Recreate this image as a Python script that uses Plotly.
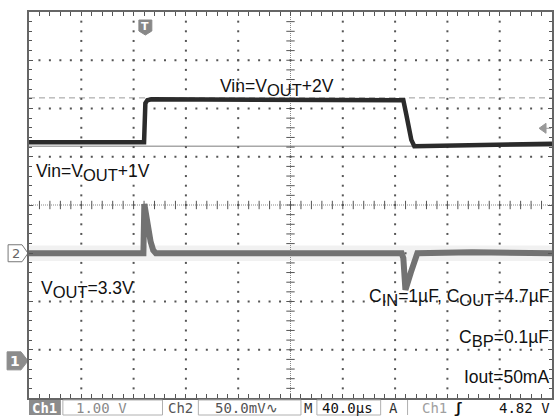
import numpy as np
import plotly.graph_objects as go

# ---------------- data ----------------
# Channel 1 : input voltage step (V), 1 V/div
t_ch1_us = [-89, -1.0, 0.0, 1.5, 4.6, 60, 120, 196.6, 197.3, 199.6, 203.4, 205.7, 224, 260, 311]
v_ch1_V = [4.53, 4.53, 5.34, 5.40, 5.42, 5.42, 5.42, 5.42, 5.40, 5.10, 4.58, 4.45, 4.46, 4.49, 4.50]

# Channel 2 : output deviation around 3.3 V (mV), 50 mV/div
t_ch2_us = [-89, -1.5, -0.8, 1.5, 4.0, 6.0, 8.0, 60, 150, 196, 197.3, 198.9, 203, 208, 250, 311]
v_ch2_mV = [0, 0, 51, 30, 12, 3, 0, 0, 0, 0, -5, -38, -20, 0, 1, 0]

# noise envelope of channel 2 (mV)
t_ch2_env_us = [-89, 311]
ch2_env_hi_mV = [8, 8]
ch2_env_lo_mV = [-8, -8]

# reference levels on channel 1 (V)
ref_dashed_V = 5.45
ref_solid_V = 4.45
trig_level_V = 4.82

SUB = '<sub><span style="font-size:16.5px">{}</span></sub>'
labels_in = ["Vin=V" + SUB.format("OUT") + "+2V", "Vin=V" + SUB.format("OUT") + "+1V",
             "V" + SUB.format("OUT") + "=3.3V"]
labels_cond = ["C" + SUB.format("IN") + "=1\u00b5F, C" + SUB.format("OUT") + "=4.7\u00b5F",
               "C" + SUB.format("BP") + "=0.1\u00b5F", "Iout=50mA"]
status_texts = ["Ch1", "1.00 V", "Ch2", "50.0mV\u223f", "M", "40.0\u00b5s", "A", "Ch1", "\u0283", "4.82 V"]

# ---------------- scope settings ----------------
US_PER_DIV = 40.0
X0 = -89.0                 # time at left graticule edge
V_PER_DIV = 1.0
CH1_GND_DIV = 0.77         # ch1 ground marker position (div from bottom)
MV_PER_DIV = 50.0
CH2_POS_DIV = 3.0          # ch2 marker position (div from bottom)
NX, NY = 10, 8

xr = [X0, X0 + NX * US_PER_DIV]
yr = [-CH1_GND_DIV * V_PER_DIV, (NY - CH1_GND_DIV) * V_PER_DIV]
y2r = [-CH2_POS_DIV * MV_PER_DIV, (NY - CH2_POS_DIV) * MV_PER_DIV]

W, H = 556, 416
ML, MR, MT, MB = 29, 2, 12, 18
PW, PH = W - ML - MR, H - MT - MB


def px(x):
    return (x - ML) / PW


def py(y):
    return (MT + PH - y) / PH


def v1_to_py(v):
    frac = (v - yr[0]) / (yr[1] - yr[0])
    return MT + PH - frac * PH


def v2_to_py(v):
    frac = (v - y2r[0]) / (y2r[1] - y2r[0])
    return MT + PH - frac * PH


def t_to_px(t):
    return ML + (t - xr[0]) / (xr[1] - xr[0]) * PW


fig = go.Figure()

# ---------------- graticule dots ----------------
gx, gy = [], []
for k in range(1, NX):
    if k == NX // 2:
        continue
    for j in range(1, NY * 5):
        gx.append(xr[0] + k * US_PER_DIV)
        gy.append(yr[0] + j * V_PER_DIV / 5)
for k in range(1, NY):
    if k == NY // 2:
        continue
    for j in range(1, NX * 5):
        gx.append(xr[0] + j * US_PER_DIV / 5)
        gy.append(yr[0] + k * V_PER_DIV)
fig.add_trace(go.Scatter(x=gx, y=gy, mode="markers",
                         marker=dict(symbol="square", size=2, color="#555"),
                         hoverinfo="skip", showlegend=False))

cx = xr[0] + NX / 2 * US_PER_DIV
cy = yr[0] + NY / 2 * V_PER_DIV
tx = [xr[0] + j * US_PER_DIV / 5 for j in range(1, NX * 5)]
ty = [yr[0] + j * V_PER_DIV / 5 for j in range(1, NY * 5)]
fig.add_trace(go.Scatter(x=tx, y=[cy] * len(tx), mode="markers",
                         marker=dict(symbol="line-ns", size=6, line=dict(width=1, color="#555")),
                         hoverinfo="skip", showlegend=False))
fig.add_trace(go.Scatter(x=[cx] * len(ty), y=ty, mode="markers",
                         marker=dict(symbol="line-ew", size=6, line=dict(width=1, color="#555")),
                         hoverinfo="skip", showlegend=False))

# ---------------- waveforms ----------------
fig.add_trace(go.Scatter(x=t_ch2_env_us, y=ch2_env_lo_mV, yaxis="y2", mode="lines",
                         line=dict(width=0, color="rgba(0,0,0,0)"),
                         hoverinfo="skip", showlegend=False))
fig.add_trace(go.Scatter(x=t_ch2_env_us, y=ch2_env_hi_mV, yaxis="y2", mode="lines",
                         line=dict(width=0, color="rgba(0,0,0,0)"), fill="tonexty",
                         fillcolor="rgba(150,150,150,0.13)",
                         hoverinfo="skip", showlegend=False))
fig.add_trace(go.Scatter(x=t_ch2_us, y=v_ch2_mV, yaxis="y2", mode="lines",
                         line=dict(width=6, color="#727272"),
                         hoverinfo="skip", showlegend=False))
fig.add_trace(go.Scatter(x=t_ch1_us, y=v_ch1_V, mode="lines",
                         line=dict(width=4.5, color="#2b2b2b"),
                         hoverinfo="skip", showlegend=False))

shapes = []
# center cross lines
shapes.append(dict(type="line", xref="paper", yref="y", x0=0, x1=1, y0=cy, y1=cy,
                   line=dict(color="#888", width=1, dash="1px,1px"), layer="below"))
shapes.append(dict(type="line", xref="x", yref="paper", x0=cx, x1=cx, y0=0, y1=1,
                   line=dict(color="#888", width=1, dash="1px,1px"), layer="below"))
# reference levels
shapes.append(dict(type="line", xref="paper", yref="y", x0=0, x1=1, y0=ref_dashed_V, y1=ref_dashed_V,
                   line=dict(color="#9a9a9a", width=1, dash="6px,4px"), layer="below"))
shapes.append(dict(type="line", xref="paper", yref="y", x0=0, x1=1, y0=ref_solid_V, y1=ref_solid_V,
                   line=dict(color="#a8a8a8", width=1.5), layer="below"))

# ---------------- markers ----------------
def path(points):
    return "M " + " L ".join(f"{px(a):.5f},{py(b):.5f}" for a, b in points) + " Z"


m2y = v2_to_py(0)
shapes.append(dict(type="path", xref="paper", yref="paper",
                   path=path([(8, m2y - 8.5), (22, m2y - 8.5), (28, m2y), (22, m2y + 8.5), (8, m2y + 8.5)]),
                   line=dict(color="#777", width=1), fillcolor="white", layer="below"))
m1y = v1_to_py(0)
shapes.append(dict(type="path", xref="paper", yref="paper",
                   path=path([(7, m1y - 9), (21, m1y - 9), (28, m1y), (21, m1y + 9), (7, m1y + 9)]),
                   line=dict(color="#8c8c8c", width=1), fillcolor="#8c8c8c", layer="below"))
tpx = t_to_px(0)
shapes.append(dict(type="path", xref="paper", yref="paper",
                   path=path([(tpx - 6.5, 20), (tpx + 6.5, 20), (tpx + 6.5, 31), (tpx, 35), (tpx - 6.5, 31)]),
                   line=dict(color="#888", width=1), fillcolor="#888", layer="below"))
trig_y = v1_to_py(trig_level_V)
shapes.append(dict(type="path", xref="paper", yref="paper",
                   path=path([(541, trig_y), (548, trig_y - 5), (548, trig_y + 5)]),
                   line=dict(color="#999", width=1), fillcolor="#999"))
shapes.append(dict(type="line", xref="paper", yref="paper", x0=px(548), x1=px(553),
                   y0=py(trig_y), y1=py(trig_y), line=dict(color="#999", width=1)))

# ---------------- status bar ----------------
shapes.append(dict(type="rect", xref="paper", yref="paper", x0=px(29), x1=px(61), y0=py(400), y1=py(415),
                   line=dict(width=0), fillcolor="#8c8c8c", layer="below"))
for a, b in [(63, 163), (199, 302), (318, 382)]:
    shapes.append(dict(type="rect", xref="paper", yref="paper", x0=px(a), x1=px(b), y0=py(400), y1=py(415),
                       line=dict(color="#b0b0b0", width=1), fillcolor="rgba(0,0,0,0)"))
shapes.append(dict(type="line", xref="paper", yref="paper", x0=px(409), x1=px(409), y0=py(400), y1=py(415),
                   line=dict(color="#b0b0b0", width=1)))

annotations = []
big = dict(family="Liberation Sans, Arial, sans-serif", size=17.5, color="#111")


def ann(text, x, y, xa, font):
    return dict(text=text, x=px(x), y=py(y), xref="paper", yref="paper",
                xanchor=xa, yanchor="middle", showarrow=False, font=font)


annotations.append(ann(labels_in[0], 219, 87, "left", big))
annotations.append(ann(labels_in[1], 34, 172, "left", big))
annotations.append(ann(labels_in[2], 39, 289, "left", big))
for txt, yy in zip(labels_cond, [297, 338, 377]):
    annotations.append(ann(txt, 553, yy, "right", big))

# marker labels
annotations.append(ann("2", 15.5, m2y, "center", dict(family="DejaVu Sans", size=13, color="#666")))
annotations.append(ann("<b>1</b>", 15, m1y, "center", dict(family="DejaVu Sans", size=14, color="white")))
annotations.append(ann("<b>T</b>", tpx, 26.5, "center", dict(family="DejaVu Sans", size=11, color="white")))

mono = "DejaVu Sans Mono, monospace"
status_pos = [45, 102, 181, 247, 309, 349, 395, 436, 460, 526]
status_col = ["white", "#8a8a8a", "#555", "#555", "#333", "#111", "#333", "#a0a0a0", "#111", "#111"]
for i, (txt, xx, col) in enumerate(zip(status_texts, status_pos, status_col)):
    t = f"<b>{txt}</b>" if i in (0, 8) else txt
    annotations.append(ann(t, xx, 407.5, "center", dict(family=mono, size=14, color=col)))

axis_common = dict(showgrid=False, zeroline=False, showticklabels=False, ticks="inside", ticklen=4,
                   tickcolor="#555", tickwidth=1, showline=True, linecolor="#666", linewidth=2,
                   mirror="allticks", fixedrange=True)
fig.update_layout(
    width=W, height=H,
    margin=dict(l=ML, r=MR, t=MT, b=MB, pad=0),
    paper_bgcolor="white", plot_bgcolor="white",
    showlegend=False,
    xaxis=dict(range=xr, tick0=xr[0], dtick=US_PER_DIV,
               minor=dict(tick0=xr[0], dtick=US_PER_DIV / 5, ticks="inside", ticklen=3, tickcolor="#555"),
               **axis_common),
    yaxis=dict(range=yr, tick0=yr[0], dtick=V_PER_DIV,
               minor=dict(tick0=yr[0], dtick=V_PER_DIV / 5, ticks="inside", ticklen=3, tickcolor="#555"),
               **axis_common),
    yaxis2=dict(range=y2r, overlaying="y", visible=False, fixedrange=True),
    shapes=shapes,
    annotations=annotations,
)

fig.write_html("out.html", config={"displayModeBar": False},
               post_script="document.body.style.margin='0';document.body.style.overflow='hidden';")
